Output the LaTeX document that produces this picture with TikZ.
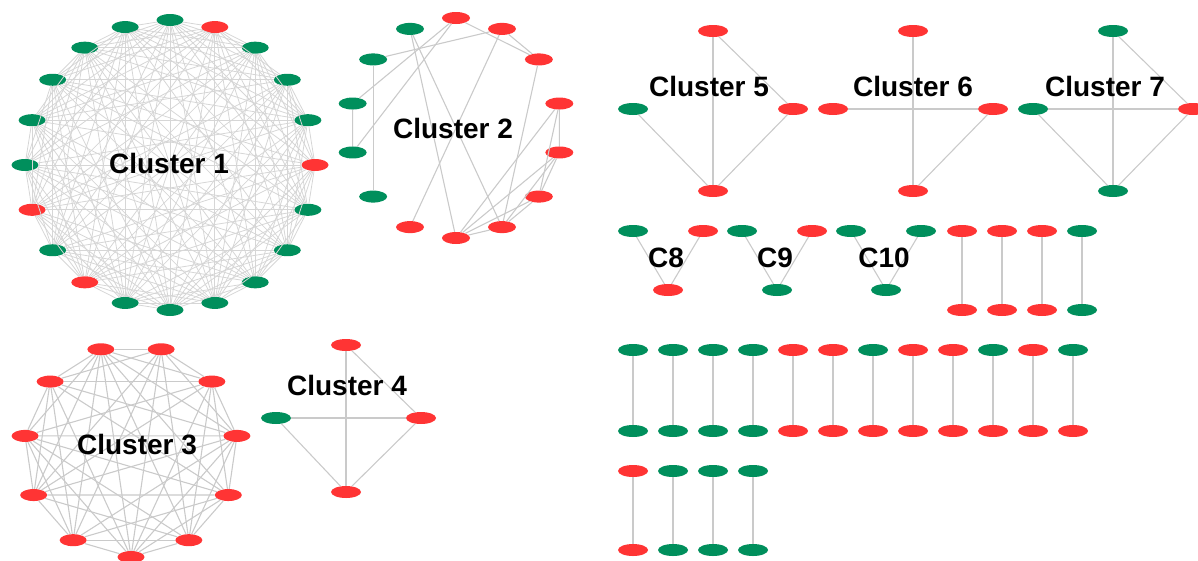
\documentclass[tikz,border=0pt]{standalone}
\usepackage{fontspec}
\setmainfont{Liberation Sans}
\usetikzlibrary{shapes.geometric}
\definecolor{ngreen}{RGB}{0,143,92}
\definecolor{nred}{RGB}{255,52,52}
\definecolor{egray}{RGB}{202,202,202}
\definecolor{lgray}{RGB}{214,214,214}

\begin{document}
\begin{tikzpicture}[x=1pt,y=-1pt,
  gn/.style={ellipse,fill=ngreen,minimum width=30pt,minimum height=12pt,inner sep=0pt},
  rn/.style={gn,fill=nred},
  ln/.style={egray,line width=1.1pt},
  lab/.style={font=\fontsize{28}{30}\selectfont\bfseries}]
\useasboundingbox (0,0) rectangle (1198,560);

% cluster 1
\foreach \k/\c in {0/gn,1/rn,2/gn,3/gn,4/gn,5/rn,6/gn,7/gn,8/gn,9/gn,
    10/gn,11/gn,12/rn,13/gn,14/rn,15/gn,16/gn,17/gn,18/gn,19/gn}
  \node[\c,minimum width=27pt] (a\k) at ({170+145*cos(90-18*\k)},{165-145*sin(90-18*\k)}) {};
\foreach \i in {0,...,18} {
  \pgfmathtruncatemacro\jst{\i+1}
  \foreach \j in {\jst,...,19} {
    \pgfmathtruncatemacro\sk{mod(3*\i+5*\j,7)}
    \ifnum\sk>0 \draw[ln,lgray,line width=0.8pt] (a\i) -- (a\j); \fi
  }
}
\node[lab] (l1) at (169,163) {Cluster 1};

% cluster 2
\foreach \k/\c in {0/rn,1/rn,2/rn,3/rn,4/rn,5/rn,6/rn,7/rn,8/rn,
    9/gn,10/gn,11/gn,12/gn,13/gn}
  \node[\c,minimum width=28pt] (b\k) at ({456+106*cos(90-360/14*\k)},{128-110*sin(90-360/14*\k)}) {};
\foreach \i/\j in {0/2,1/2,0/11,0/10,1/12,1/8,13/7,13/6,12/9,11/10,
    2/6,3/4,3/5,3/7,4/5,4/6,4/7,5/6,5/7,6/7}
  \draw[ln] (b\i) -- (b\j);
\node[lab] (l2) at (453,128) {Cluster 2};

% cluster 3
\foreach \k in {0,...,10}
  \node[rn,minimum width=27pt] (c\k) at ({131+107*cos(-90+360/11*\k)},{451-106*sin(-90+360/11*\k)}) {};
\foreach \i in {0,...,9} {
  \pgfmathtruncatemacro\jst{\i+1}
  \foreach \j in {\jst,...,10} {
    \pgfmathtruncatemacro\sk{mod(2*\i+\j,9)}
    \ifnum\sk>0 \draw[ln] (c\i) -- (c\j); \fi
  }
}
\node[lab] (l3) at (137,445) {Cluster 3};

% cluster 4
\node[rn] (d1) at (346,345) {};
\node[gn] (d2) at (276,418) {};
\node[rn] (d3) at (421,418) {};
\node[rn] (d4) at (346,492) {};
\foreach \i/\j in {1/4,1/3,2/3,2/4,3/4}
  \draw[ln] (d\i) -- (d\j);
\node[lab] (l4) at (347,385) {Cluster 4};

% clusters 5 to 7
\foreach \n/\x/\t/\l/\r/\b in {5/713/rn/gn/rn/rn,6/913/rn/rn/rn/rn,7/1113/gn/gn/rn/gn} {
  \node[\t] (e\n t) at (\x,31) {};
  \node[\l] (e\n l) at (\x-80,109) {};
  \node[\r] (e\n r) at (\x+80,109) {};
  \node[\b] (e\n b) at (\x,191) {};
  \draw[ln] (e\n t) -- (e\n b);
  \draw[ln] (e\n r) -- (e\n b);
}
\draw[ln] (e5t) -- (e5r);
\draw[ln] (e5l) -- (e5b);
\draw[ln] (e6l) -- (e6r);
\draw[ln] (e7t) -- (e7r);
\draw[ln] (e7l) -- (e7r);
\draw[ln] (e7l) -- (e7b);
\node[lab] (l5) at (709,86) {Cluster 5};
\node[lab] (l6) at (913,86) {Cluster 6};
\node[lab] (l7) at (1105,86) {Cluster 7};

% C8 to C10
\foreach \n/\x/\l/\r/\b in {8/668/gn/rn/rn,9/777/gn/rn/gn,10/886/gn/gn/gn} {
  \node[\l] (f\n l) at (\x-35,231) {};
  \node[\r] (f\n r) at (\x+35,231) {};
  \node[\b] (f\n b) at (\x,290) {};
  \draw[ln] (f\n l) -- (f\n b);
  \draw[ln] (f\n r) -- (f\n b);
  \node[lab] (l\n) at (\x-2,258) {C\n};
}

% pairs
\foreach \x/\u/\d [count=\n] in {962/rn/rn,1002/rn/rn,1042/rn/rn,1082/gn/gn} {
  \node[\u] (p\n) at (\x,231) {};
  \node[\d] (q\n) at (\x,310) {};
  \draw[ln] (p\n) -- (q\n);
}
\foreach \u/\d [count=\n] in {gn/gn,gn/gn,gn/gn,gn/gn,rn/rn,rn/rn,
    gn/rn,rn/rn,rn/rn,gn/rn,rn/rn,gn/rn} {
  \node[\u] (r\n) at (593+40*\n,350) {};
  \node[\d] (s\n) at (593+40*\n,431) {};
  \draw[ln] (r\n) -- (s\n);
}
\foreach \u/\d [count=\n] in {rn/rn,gn/gn,gn/gn,gn/gn} {
  \node[\u] (t\n) at (593+40*\n,471) {};
  \node[\d] (u\n) at (593+40*\n,550) {};
  \draw[ln] (t\n) -- (u\n);
}

\end{tikzpicture}
\end{document}
